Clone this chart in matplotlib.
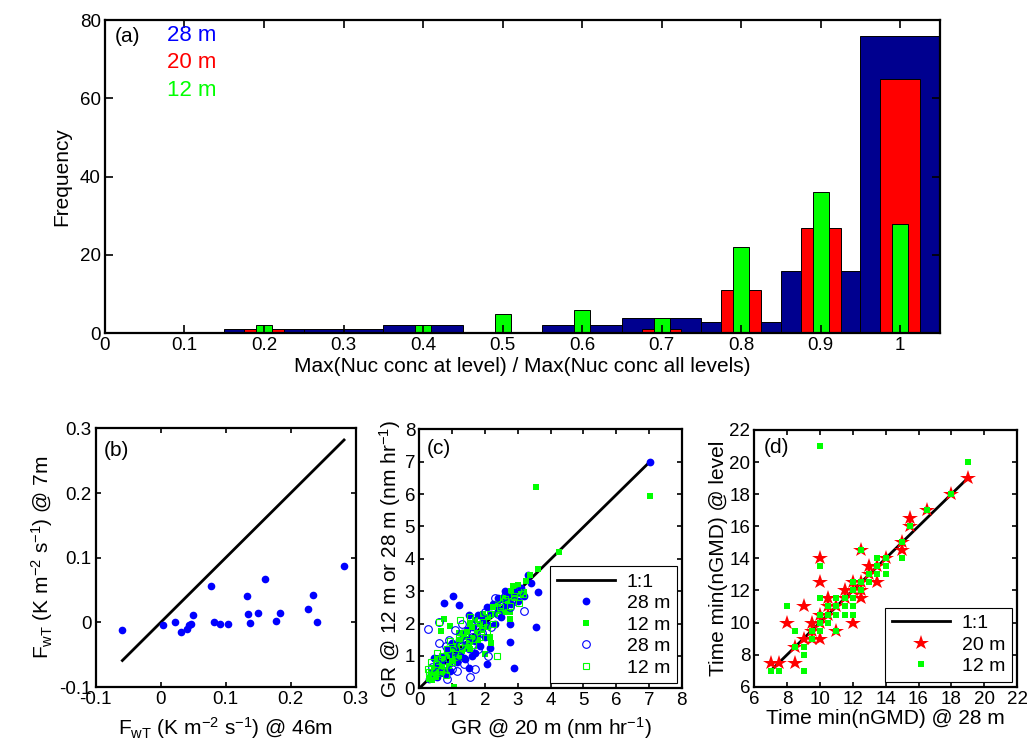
import matplotlib
matplotlib.use("Agg")
import matplotlib.pyplot as plt
import numpy as np

plt.rcParams["font.family"] = ["Liberation Sans", "DejaVu Sans"]
plt.rcParams["mathtext.fontset"] = "custom"
plt.rcParams["mathtext.rm"] = "Liberation Sans"
plt.rcParams["mathtext.it"] = "Liberation Sans:italic"
plt.rcParams["font.size"] = 14

# (a) histogram data
bin_centers = [0.1, 0.2, 0.3, 0.4, 0.5, 0.6, 0.7, 0.8, 0.9, 1.0]
freq_28m = [0, 1, 1, 2, 0, 2, 4, 3, 16, 76]
freq_20m = [0, 1, 0, 0, 0, 0, 1, 11, 27, 65]
freq_12m = [0, 2, 0, 2, 5, 6, 4, 22, 36, 28]

# (b) heat flux
fwt_46m = [-0.059, 0.004, 0.022, 0.031, 0.041, 0.043, 0.047, 0.050, 0.078, 0.082,
           0.091, 0.104, 0.133, 0.135, 0.138, 0.150, 0.161, 0.178, 0.184, 0.226,
           0.235, 0.240, 0.282]
fwt_7m = [-0.012, -0.004, 0.001, -0.015, -0.011, -0.004, -0.002, 0.011, 0.056, 0.0005,
          -0.003, -0.003, 0.040, 0.013, -0.0005, 0.015, 0.0675, 0.0026, 0.015, 0.021,
          0.042, 0.001, 0.0876]

# (c) growth rates, filled markers
gr20_28f = [0.35, 0.45, 0.5, 0.55, 0.6, 0.65, 0.7, 0.75, 0.75, 0.8, 0.85, 0.9, 0.95, 1.04,
            1.0, 1.05, 1.1, 1.15, 1.2, 1.2, 1.25, 1.3, 1.35, 1.4, 1.45, 1.5, 1.5, 1.51,
            1.55, 1.6, 1.65, 1.7, 1.75, 1.8, 1.85, 1.9, 1.95, 2.0, 2.05, 2.07, 2.1, 2.15,
            2.2, 2.25, 2.3, 2.4, 2.5, 2.55, 2.6, 2.7, 2.77, 2.77, 2.8, 2.9, 2.9, 3.0,
            3.1, 3.2, 3.3, 3.4, 3.55, 3.63, 7.03, 0.3, 0.55, 0.95, 1.4, 1.7, 2.4, 2.6]
gr28_f = [0.45, 0.95, 0.4, 0.7, 0.55, 0.85, 0.6, 1.0, 2.63, 0.45, 1.2, 0.75, 1.05, 2.85,
          1.4, 0.9, 1.25, 0.8, 2.57, 1.5, 1.1, 1.7, 0.95, 1.35, 1.8, 0.62, 1.2, 2.25,
          1.55, 1.0, 1.9, 1.45, 1.65, 2.27, 1.3, 1.85, 2.1, 1.6, 2.5, 0.74, 1.95, 1.24,
          2.3, 2.6, 2.0, 2.45, 2.2, 2.75, 2.5, 2.9, 2.0, 1.44, 2.6, 0.62, 3.0, 2.7,
          3.1, 2.85, 3.5, 3.25, 1.9, 2.96, 7.0, 0.3, 0.35, 0.55, 0.9, 1.1, 2.8, 3.0]
gr20_12f = [0.3, 0.35, 0.4, 0.45, 0.5, 0.55, 0.6, 0.65, 0.65, 0.7, 0.75, 0.75, 0.8, 0.85,
            0.9, 0.95, 1.0, 1.05, 1.05, 1.1, 1.15, 1.2, 1.25, 1.3, 1.35, 1.4, 1.45, 1.5,
            1.55, 1.6, 1.65, 1.7, 1.75, 1.8, 1.85, 1.9, 1.95, 2.0, 2.05, 2.1, 2.15, 2.2,
            2.25, 2.3, 2.4, 2.5, 2.55, 2.6, 2.7, 2.75, 2.75, 2.8, 2.9, 3.0, 3.1, 3.2,
            3.25, 3.38, 3.62, 4.25, 3.56, 7.03, 2.85, 1.55, 0.55, 1.2]
gr12_f = [0.3, 0.5, 0.25, 0.6, 0.35, 0.5, 0.8, 1.77, 0.45, 0.65, 2.15, 0.9, 0.55, 1.0,
          0.7, 1.93, 0.85, 0.04, 1.2, 1.0, 1.3, 0.95, 1.5, 1.15, 1.6, 1.3, 1.75, 1.4,
          1.2, 1.9, 1.55, 2.1, 1.7, 1.5, 2.0, 1.8, 2.3, 1.05, 1.9, 2.2, 1.6, 1.4,
          2.5, 2.3, 2.6, 2.4, 2.8, 2.35, 2.7, 2.13, 2.37, 3.0, 2.8, 3.2, 2.9, 2.97,
          3.3, 3.5, 3.7, 4.21, 6.21, 5.94, 3.15, 2.0, 0.95, 1.7]

# (c) growth rates, open markers
gr20_28o = [0.26, 0.4, 0.5, 0.6, 0.7, 0.8, 0.85, 0.9, 1.0, 1.1, 1.15, 1.2, 1.3, 1.35,
            1.45, 1.55, 1.6, 1.7, 1.75, 1.8, 1.9, 2.0, 2.1, 2.2, 2.3, 2.4, 2.5, 2.6,
            2.75, 2.9, 3.05, 3.2, 0.6, 1.0, 1.25, 0.7]
gr28_o = [1.82, 0.65, 0.9, 1.4, 0.5, 1.3, 0.3, 1.5, 0.6, 1.8, 0.55, 1.0, 2.0, 0.75,
          1.5, 0.35, 1.6, 0.6, 2.1, 1.2, 1.7, 2.35, 1.0, 1.9, 2.8, 2.3, 2.55, 2.85,
          2.5, 2.7, 3.0, 2.4, 2.05, 1.15, 1.35, 0.95]
gr20_12o = [0.25, 0.3, 0.35, 0.45, 0.5, 0.6, 0.65, 0.7, 0.8, 0.85, 0.95, 1.0, 1.1, 1.2,
            1.3, 1.4, 1.5, 1.55, 1.65, 1.75, 1.85, 1.95, 2.05, 2.15, 2.25, 2.36, 2.45,
            2.6, 2.75, 2.9, 3.05, 3.15, 1.25, 0.55]
gr12_o = [0.6, 0.5, 0.8, 0.4, 0.75, 2.05, 0.55, 1.0, 0.4, 1.2, 1.45, 0.8, 1.05, 1.55,
          1.25, 1.7, 1.45, 2.2, 1.35, 1.9, 1.6, 2.05, 1.75, 2.3, 2.0, 1.0, 2.5,
          2.75, 2.55, 2.85, 2.65, 2.9, 2.1, 1.1]

# (d) time of min(nGMD)
t28_red = [7, 7.5, 8, 8.5, 8.5, 9, 9, 9.5, 9.5, 9.5, 10, 10, 10, 10, 10, 10.5, 10.5, 10.5,
           11, 11, 11.5, 11.5, 12, 12, 12, 12.5, 12.5, 12.5, 12.5, 13, 13, 13.5, 13.5, 14,
           15, 15, 15.5, 15.5, 16.5, 18, 19]
t20 = [7.5, 7.5, 10, 7.5, 8.5, 11, 9, 10, 9.5, 9, 14, 12.5, 10.5, 10, 9, 11.5, 10.5, 11,
       11, 9.5, 12, 11.5, 10, 12, 12.5, 11.5, 12.5, 14.5, 12, 13.5, 13, 12.5, 13.5, 14,
       14.5, 15, 16.5, 16, 17, 18, 19]
t28_green = [7, 7.5, 8, 8.5, 8.5, 9, 9, 9, 9.5, 9.5, 10, 10, 10, 10, 10, 10, 10.5, 10.5,
             10.5, 11, 11, 11, 11, 11.5, 11.5, 11.5, 12, 12, 12, 12, 12, 12.5, 12.5, 12.5,
             13, 13, 13.5, 13.5, 13.5, 14, 14, 14, 15, 15, 15.5, 16.5, 18, 19]
t12 = [7, 7, 11, 9.5, 8.5, 7, 8, 8.5, 9, 9.5, 21, 13.5, 11.5, 10.5, 10, 9.5, 11, 10.5,
       10, 11.5, 11, 10.5, 9.5, 11.5, 11, 10.5, 12.5, 12, 11.5, 11, 10.5, 14.5, 12.5, 12,
       13, 12.5, 14, 13.5, 13, 14, 13.5, 13, 15, 14, 16, 17, 18, 20]

navy = "#00008f"
blue = "#0000ff"
red = "#ff0000"
green = "#00ff00"
TICK_FS = 13.5
LABEL_FS = 15


def style_axes(ax, ticklen=3.5):
    ax.tick_params(direction="in", top=True, right=True, length=ticklen, width=1.2,
                   labelsize=TICK_FS, pad=3)
    for s in ax.spines.values():
        s.set_linewidth(1.6)


fig = plt.figure(figsize=(10.27, 7.52), dpi=100)

# ---- (a) ----
ax1 = fig.add_axes([0.1022, 0.5568, 0.813, 0.4166])
ax1.bar(bin_centers, freq_28m, width=0.1, color=navy, edgecolor="k", linewidth=0.7)
ax1.bar(bin_centers, freq_20m, width=0.05, color=red, edgecolor="k", linewidth=0.7)
ax1.bar(bin_centers, freq_12m, width=0.02, color=green, edgecolor="k", linewidth=0.7)
ax1.set_xlim(0, 1.05)
ax1.set_ylim(0, 80)
ax1.set_xticks([0, 0.1, 0.2, 0.3, 0.4, 0.5, 0.6, 0.7, 0.8, 0.9, 1])
ax1.set_xticklabels(["0", "0.1", "0.2", "0.3", "0.4", "0.5", "0.6", "0.7", "0.8", "0.9", "1"])
ax1.set_yticks([0, 20, 40, 60, 80])
ax1.set_xlabel("Max(Nuc conc at level) / Max(Nuc conc all levels)", fontsize=LABEL_FS,
               labelpad=2)
ax1.set_ylabel("Frequency", fontsize=LABEL_FS, labelpad=6)
style_axes(ax1, ticklen=6)
ax1.text(0.012, 0.948, "(a)", transform=ax1.transAxes, fontsize=15, va="center")
ax1.text(0.074, 0.952, "28 m", transform=ax1.transAxes, fontsize=16, va="center", color=blue)
ax1.text(0.074, 0.864, "20 m", transform=ax1.transAxes, fontsize=16, va="center", color=red)
ax1.text(0.074, 0.776, "12 m", transform=ax1.transAxes, fontsize=16, va="center", color=green)

# ---- (b) ----
ax2 = fig.add_axes([0.0932, 0.0864, 0.2532, 0.344])
lo, hi = min(fwt_46m), max(fwt_46m)
ax2.plot([lo, hi], [lo, hi], color="k", linewidth=2)
ax2.plot(fwt_46m, fwt_7m, "o", color=blue, markersize=5.5, markeredgewidth=0)
ax2.set_xlim(-0.1, 0.3)
ax2.set_ylim(-0.1, 0.3)
ax2.set_xticks([-0.1, 0, 0.1, 0.2, 0.3])
ax2.set_xticklabels(["-0.1", "0", "0.1", "0.2", "0.3"])
ax2.set_yticks([-0.1, 0, 0.1, 0.2, 0.3])
ax2.set_yticklabels(["-0.1", "0", "0.1", "0.2", "0.3"])
ax2.set_xlabel(r"F$_{\mathrm{wT}}$ (K m$^{-2}$ s$^{-1}$) @ 46m", fontsize=LABEL_FS, labelpad=5)
ax2.set_ylabel(r"F$_{\mathrm{wT}}$ (K m$^{-2}$ s$^{-1}$) @ 7m", fontsize=LABEL_FS, labelpad=3)
style_axes(ax2)
ax2.text(0.03, 0.915, "(b)", transform=ax2.transAxes, fontsize=15, va="center")

# ---- (c) ----
ax3 = fig.add_axes([0.4083, 0.0847, 0.2555, 0.3444])
hi_c = max(gr20_28f)
ax3.plot([0, hi_c], [0, 7.0], color="k", linewidth=2, label="1:1")
ax3.plot(gr20_28f, gr28_f, "o", color=blue, markersize=5.6, markeredgewidth=0, label="28 m")
ax3.plot(gr20_12f, gr12_f, "s", color=green, markersize=4.8, markeredgewidth=0, label="12 m")
ax3.plot(gr20_28o, gr28_o, "o", markerfacecolor="none", markeredgecolor=blue,
         markersize=5.5, markeredgewidth=0.8, linestyle="none", label="28 m")
ax3.plot(gr20_12o, gr12_o, "s", markerfacecolor="none", markeredgecolor=green,
         markersize=5, markeredgewidth=0.8, linestyle="none", label="12 m")
ax3.set_xlim(0, 8)
ax3.set_ylim(0, 8)
ax3.set_xticks(range(0, 9))
ax3.set_yticks(range(0, 9))
ax3.set_xlabel(r"GR @ 20 m (nm hr$^{-1}$)", fontsize=LABEL_FS, labelpad=4)
ax3.set_ylabel(r"GR @ 12 m or 28 m (nm hr$^{-1}$)", fontsize=LABEL_FS, labelpad=1)
style_axes(ax3)
ax3.text(0.03, 0.925, "(c)", transform=ax3.transAxes, fontsize=15, va="center")
leg = ax3.legend(loc="lower right", fontsize=14, fancybox=False, framealpha=1,
                 edgecolor="k", handlelength=3.0, borderaxespad=0.25,
                 labelspacing=0.2, handletextpad=0.6, borderpad=0.35)
leg.get_frame().set_linewidth(0.8)

# ---- (d) ----
ax4 = fig.add_axes([0.7345, 0.0868, 0.2558, 0.3414])
ax4.plot([7, 19], [7, 19], color="k", linewidth=2, label="1:1")
ax4.plot(t28_red, t20, "*", color=red, markersize=11.5, markeredgewidth=0, label="20 m")
ax4.plot(t28_green, t12, "s", color=green, markersize=4.8, markeredgewidth=0, label="12 m")
ax4.set_xlim(6, 22)
ax4.set_ylim(6, 22)
ax4.set_xticks(range(6, 23, 2))
ax4.set_yticks(range(6, 23, 2))
ax4.set_xlabel("Time min(nGMD) @ 28 m", fontsize=LABEL_FS, labelpad=1)
ax4.set_ylabel("Time min(nGMD) @ level", fontsize=LABEL_FS, labelpad=1)
style_axes(ax4)
ax4.text(0.037, 0.93, "(d)", transform=ax4.transAxes, fontsize=15, va="center")
leg = ax4.legend(loc="lower right", fontsize=14, fancybox=False, framealpha=1,
                 edgecolor="k", handlelength=3.0, borderaxespad=0.25,
                 labelspacing=0.2, handletextpad=0.6, borderpad=0.35)
leg.get_frame().set_linewidth(0.8)

fig.savefig("out.png", dpi=100, facecolor="white")
